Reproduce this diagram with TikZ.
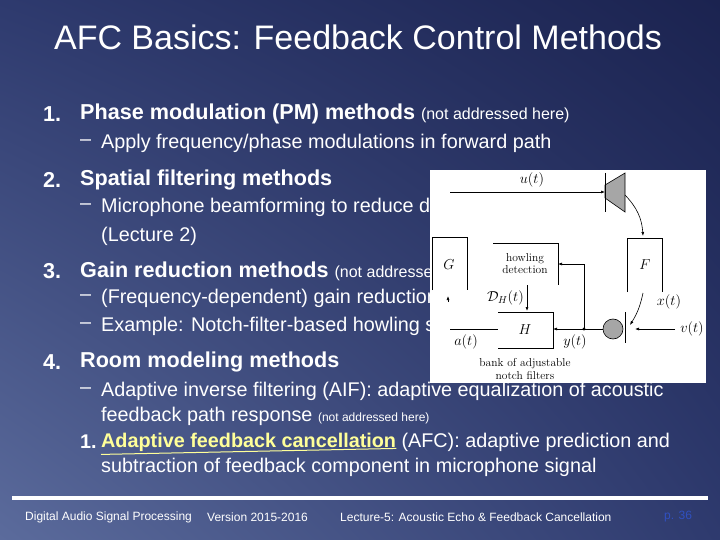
\documentclass[tikz,border=0pt]{standalone}
\usepackage{fontspec}
\setmainfont{Liberation Sans}
\newfontfamily\serf{Latin Modern Roman}
\usetikzlibrary{arrows.meta,shadings}
\definecolor{bgA}{HTML}{1B2350}
\definecolor{bgB}{HTML}{5B6B9C}
\definecolor{bgC}{HTML}{2E3A6E}
\definecolor{hilite}{HTML}{FFFF99}
\definecolor{pcol}{HTML}{3050C0}
\begin{document}
\begin{tikzpicture}[x=1pt,y=-1pt,
  txt/.style={anchor=west,inner sep=0pt,text=white},
  hd/.style={txt,font=\fontsize{21.6}{24}\selectfont\bfseries},
  sb/.style={txt,font=\fontsize{19.8}{22}\selectfont},
  ft/.style={txt,font=\fontsize{12}{14}\selectfont},
  dl/.style={inner sep=1pt,font=\serf\fontsize{14}{16}\selectfont},
  ln/.style={line width=0.6pt,black},
  ar/.style={ln,-{Latex[length=4pt,width=3pt]}}]
\useasboundingbox (0,0) rectangle (720,540);
\shade[upper left=bgC,upper right=bgA,lower left=bgB,lower right=bgC] (0,0) rectangle (720,540);
\node[anchor=center,text=white,font=\fontsize{34}{38}\selectfont] (title) at (358,37) {AFC Basics: Feedback Control Methods};
\node[hd] (k1) at (43,114) {1.};
\node[hd] (n1) at (80,114) {Phase modulation (PM) methods {\mdseries\fontsize{16}{18}\selectfont(not addressed here)}};
\node[sb] (d1) at (80,143) {–};
\node[sb] (s1) at (101,143) {Apply frequency/phase modulations in forward path};
\node[hd] (k2) at (43,180) {2.};
\node[hd] (n2) at (80,180) {Spatial filtering methods};
\node[sb] (d2) at (80,207) {–};
\node[sb] (s2) at (101,207) {Microphone beamforming to reduce direct coupling};
\node[sb] (s2b) at (101,236) {(Lecture 2)};
\node[hd] (k3) at (43,271) {3.};
\node[hd] (n3) at (80,271) {Gain reduction methods {\mdseries\fontsize{16}{18}\selectfont(not addressed here)}};
\node[sb] (d3) at (80,298) {–};
\node[sb] (s3) at (101,298) {(Frequency-dependent) gain reduction after howling detection};
\node[sb] (d3b) at (80,326) {–};
\node[sb] (s3b) at (101,326) {Example: Notch-filter-based howling suppression};
\node[hd] (k4) at (43,362) {4.};
\node[hd] (n4) at (80,362) {Room modeling methods};
\node[sb] (d4) at (80,391) {–};
\node[sb] (s4) at (101,391) {Adaptive inverse filtering (AIF): adaptive equalization of acoustic};
\node[sb] (s4b) at (101,416) {feedback path response {\fontsize{12}{14}\selectfont(not addressed here)}};
\node[sb,font=\fontsize{19.8}{22}\selectfont\bfseries] (k5) at (80,442) {1.};
\node[sb,text=hilite,font=\fontsize{19.8}{22}\selectfont\bfseries] (s5a) at (101,442) {Adaptive feedback cancellation};
\draw[hilite,line width=1pt] (s5a.south west) ++(0,3) -- ([yshift=3pt]s5a.south east);
\node[sb,anchor=west] (s5) at ([xshift=5pt]s5a.east) {(AFC): adaptive prediction and};
\node[sb] (s5b) at (101,467) {subtraction of feedback component in microphone signal};
\draw[white,line width=4pt] (12,498) -- (708,498);
\node[ft] (f1) at (25,517) {Digital Audio Signal Processing};
\node[ft] (f2) at (207,517) {Version 2015-2016};
\node[ft] (f3) at (340,517) {Lecture-5: Acoustic Echo \& Feedback Cancellation};
\node[ft,text=pcol] (f4) at (664,517) {p. 36};
% inset
\fill[white] (430,170) rectangle (706,383);
\coordinate (uin) at (450,192);
\draw[ln,fill=gray!70] (605,185) -- (625,173) -- (625,212) -- (605,198) -- cycle;
\draw[ln] (605,173) -- (605,212);
\coordinate (spk) at (605,192);
\draw[ar] (uin) -- (spk);
\node[dl] (ul) at (532,180) {$u(t)$};
\draw[ln] (627,292) -- (627,238) -- (662,238) -- (662,292);
\node[dl] (F) at (645,265) {$F$};
\draw[ln] (432,290) -- (432,237) -- (467,237) -- (467,290);
\node[dl] (G) at (449,265) {$G$};
\draw[ar] (448,302) -- (448,296);
\draw[ln] (493,243) -- (558,243) -- (558,285);
\node[dl,align=center,font=\serf\fontsize{11.5}{12}\selectfont] (hd) at (525,264) {howling\\detection};
\draw[ln] (498,312) -- (553,312) -- (553,348) -- (498,348);
\node[dl] (H) at (525,330) {$H$};
\draw[ar] (527,285) -- (527,311);
\node[dl,anchor=east] (dh) at (525,298) {$\mathcal{D}_H(t)$};
\draw[ln] (450,329) -- (498,329);
\node[dl] (al) at (466,342) {$a(t)$};
\draw[ln,fill=gray!70] (613,329) circle (10);
\draw[ln] (625,312) -- (625,343);
\coordinate (dot) at (584,329);
\fill (dot) circle (1.6);
\draw[ar] (603,329) -- (553,329);
\draw[ar] (dot) -- (584,264) -- (558,264);
\node[dl] (yl) at (575,342) {$y(t)$};
\draw[ar] (675,329) -- (635,329);
\node[dl] (vl) at (692,329) {$v(t)$};
\draw[ar] (625,195) to[bend left=20] (643,236);
\draw[ar] (643,293) to[bend left=10] (630,325);
\node[dl] (xl) at (669,302) {$x(t)$};
\node[dl,align=center,font=\serf\fontsize{11.5}{13}\selectfont] (bk) at (525,369) {bank of adjustable\\notch filters};
\end{tikzpicture}
\end{document}
